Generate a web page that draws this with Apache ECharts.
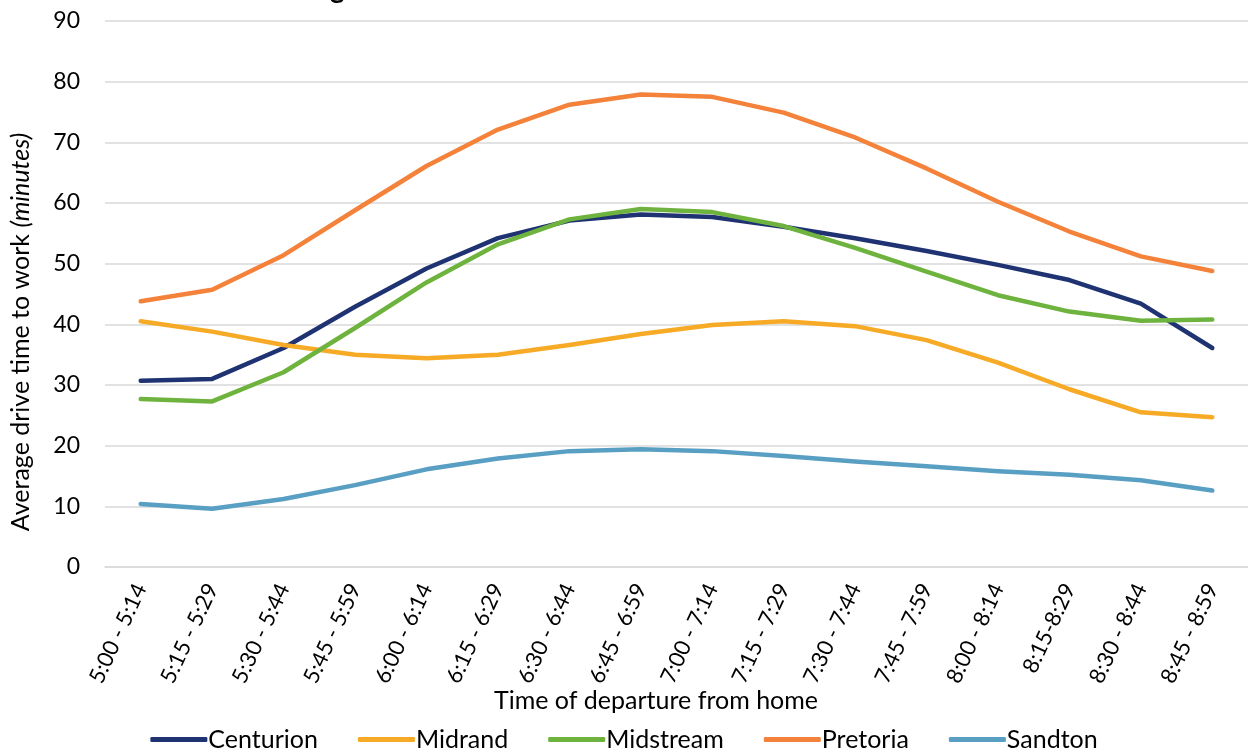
<!DOCTYPE html>
<html>
<head>
<meta charset="utf-8">
<script src="https://cdn.jsdelivr.net/npm/echarts@6/dist/echarts.min.js"></script>
<style>html,body{margin:0;padding:0;background:#fff}#c{width:1248px;height:754px}</style>
</head>
<body>
<div id="c"></div>
<script>
const categories = ['5:00 - 5:14','5:15 - 5:29','5:30 - 5:44','5:45 - 5:59','6:00 - 6:14','6:15 - 6:29','6:30 - 6:44','6:45 - 6:59','7:00 - 7:14','7:15 - 7:29','7:30 - 7:44','7:45 - 7:59','8:00 - 8:14','8:15-8:29','8:30 - 8:44','8:45 - 8:59'];
const centurion = [30.7, 31.0, 36.1, 42.9, 49.2, 54.2, 57.1, 58.1, 57.7, 56.1, 54.2, 52.1, 49.8, 47.3, 43.4, 36.1];
const midrand   = [40.5, 38.8, 36.6, 35.0, 34.4, 35.0, 36.6, 38.4, 39.9, 40.5, 39.7, 37.4, 33.7, 29.3, 25.5, 24.7];
const midstream = [27.7, 27.3, 32.1, 39.4, 46.9, 53.2, 57.3, 59.0, 58.5, 56.2, 52.6, 48.7, 44.8, 42.1, 40.6, 40.8];
const pretoria  = [43.8, 45.7, 51.4, 58.8, 66.1, 72.1, 76.2, 77.9, 77.5, 74.9, 70.8, 65.7, 60.2, 55.3, 51.2, 48.8];
const sandton   = [10.4, 9.6, 11.2, 13.5, 16.1, 17.9, 19.1, 19.4, 19.1, 18.3, 17.4, 16.6, 15.8, 15.2, 14.3, 12.6];
const yTicks = [0, 90, 10];
const seriesNames = ['Centurion','Midrand','Midstream','Pretoria','Sandton'];
const colors = ['#1F3373','#F6AA25','#6FB33F','#F4823A','#589FC3'];
const seriesData = [centurion, midrand, midstream, pretoria, sandton];
const xTitle = 'Time of departure from home';
const yTitle = 'Average drive time to work ';
const yTitleItalic = '(minutes)';

const FONT = 'Lato, "Open Sans", sans-serif';
const chart = echarts.init(document.getElementById('c'), null, {renderer: 'canvas'});
chart.setOption({
  animation: false,
  color: colors,
  textStyle: {fontFamily: FONT},
  graphic: [{
    type: 'text', left: 330, top: -25,
    style: {text: 'g', font: 'bold 28px Lato, sans-serif', fill: '#000'}
  }, {
    type: 'text', x: 656, y: 701,
    style: {text: xTitle, fontSize: 25, fontFamily: FONT, fill: '#000', align: 'center', verticalAlign: 'middle'}
  }, {
    type: 'text', x: 21, y: 332, rotation: Math.PI / 2,
    style: {
      text: '{n|' + yTitle + '}{i|' + yTitleItalic + '}', align: 'center', verticalAlign: 'middle',
      rich: {
        n: {fontSize: 25, fontFamily: FONT, fill: '#000'},
        i: {fontSize: 25, fontFamily: FONT, fill: '#000', fontStyle: 'italic'}
      }
    }
  }],
  grid: {left: 105, top: 21, width: 1150, height: 546},
  legend: {
    top: 722, left: 'center',
    itemGap: 40, itemWidth: 57, itemHeight: 5, icon: 'roundRect',
    textStyle: {fontSize: 25, color: '#000', fontFamily: FONT, padding: [0,0,0,-4]},
    data: seriesNames
  },
  xAxis: {
    type: 'category', data: categories, boundaryGap: true,
    axisLine: {show: true, lineStyle: {color: '#d9d9d9', width: 1.5}},
    axisTick: {show: false},
    axisLabel: {rotate: 65, fontSize: 22, color: '#000', margin: 18, interval: 0, fontFamily: FONT}
  },
  yAxis: {
    type: 'value', min: yTicks[0], max: yTicks[1], interval: yTicks[2],
    axisLine: {show: false}, axisTick: {show: false},
    splitLine: {lineStyle: {color: '#d9d9d9', width: 1.5}},
    axisLabel: {fontSize: 23, color: '#000', margin: 25, fontFamily: FONT}
  },
  series: seriesNames.map((n, i) => ({
    name: n, type: 'line', data: seriesData[i], symbol: 'none',
    lineStyle: {width: 4.5, color: colors[i], cap: 'round', join: 'round'},
    itemStyle: {color: colors[i]}
  }))
});
</script>
</body>
</html>
